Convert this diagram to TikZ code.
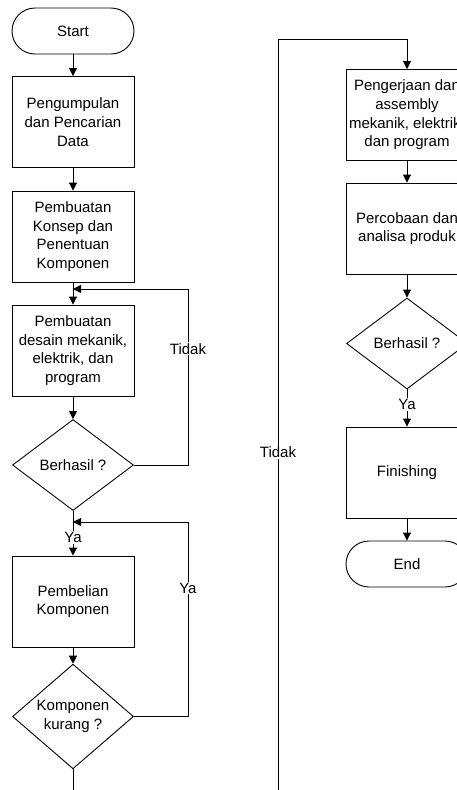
\documentclass[tikz,border=0pt]{standalone}
\usepackage{fontspec}
\setmainfont{Liberation Sans}
\usetikzlibrary{arrows.meta,shapes.geometric}

\begin{document}
\begin{tikzpicture}[x=1pt, y=-1pt, line width=0.9pt, >={Triangle[length=8pt,width=8pt]},
    every node/.style={font=\fontsize{15}{18.7}\selectfont},
    proc/.style={draw, align=center, minimum width=122pt, minimum height=91pt, inner sep=2pt},
    term/.style={draw, rounded corners=23pt, minimum width=122pt, minimum height=46pt},
    decis/.style={draw, diamond, align=center, minimum width=121pt, minimum height=91pt, inner sep=0pt},
    lbl/.style={fill=white, inner sep=1pt},
    flow/.style={->}]
    \clip (0,0) rectangle (457,790);

    % left column
    \node[term] (start) at (73,31) {Start};
    \node[proc] (data) at (73,122) {Pengumpulan\\dan Pencarian\\Data};
    \node[proc] (konsep) at (73,236.5) {Pembuatan\\Konsep dan\\Penentuan\\Komponen};
    \node[proc] (desain) at (73,350.5) {Pembuatan\\desain mekanik,\\elektrik, dan\\program};
    \node[decis] (cek1) at (73,465) {Berhasil ?};
    \node[proc] (beli) at (73,601.5) {Pembelian\\Komponen};
    \node[decis] (kurang) at (73,716.5) {Komponen\\kurang ?};

    % right column
    \node[proc] (rakit) at (407,115) {Pengerjaan dan\\assembly\\mekanik, elektrik,\\dan program};
    \node[proc] (uji) at (407,228.5) {Percobaan dan\\analisa produk};
    \node[decis] (cek2) at (407,343.5) {Berhasil ?};
    \node[proc] (finish) at (407,472.5) {Finishing};
    \node[term] (end) at (407,564) {End};

    \coordinate (j1) at (73,289);
    \coordinate (j2) at (73,522);
    \coordinate (bl) at (73,790);
    \coordinate (br) at (278,790);
    \coordinate (tr) at (278,39);

    \draw[flow] (start) -- (data);
    \draw[flow] (data) -- (konsep);
    \draw[flow] (konsep) -- (desain);
    \draw[flow] (desain) -- (cek1);
    \draw[flow] (cek1.east) -- ++(54,0) |- node[lbl, pos=0.33] {Tidak} (j1);
    \draw[flow] (cek1) -- node[lbl, pos=0.6] {Ya} (beli);
    \draw[flow] (beli) -- (kurang);
    \draw[flow] (kurang.east) -- ++(54,0) |- node[lbl, pos=0.33] {Ya} (j2);
    \draw (kurang) -- (bl);

    \draw[flow] (br) -- node[lbl, pos=0.45] {Tidak} (tr) -| (rakit.north);
    \draw[flow] (rakit) -- (uji);
    \draw[flow] (uji) -- (cek2);
    \draw[flow] (cek2) -- node[lbl, pos=0.4] {Ya} (finish);
    \draw[flow] (finish) -- (end);
\end{tikzpicture}
\end{document}
